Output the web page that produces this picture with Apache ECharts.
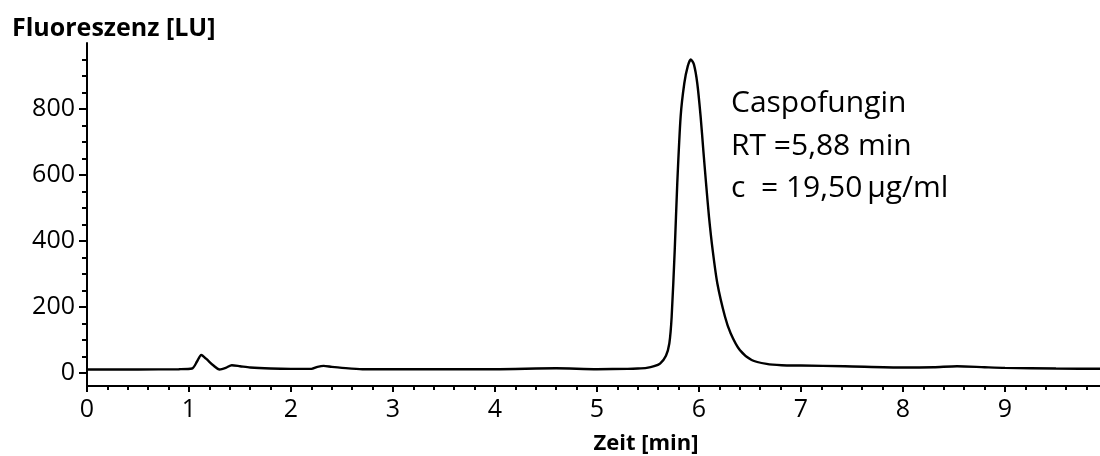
<!DOCTYPE html>
<html>
<head>
<meta charset="utf-8">
<script src="https://cdn.jsdelivr.net/npm/echarts@6/dist/echarts.min.js"></script>
<style>
html,body{margin:0;padding:0;background:#fff;}
#chart{width:1100px;height:456px;}
</style>
</head>
<body>
<div id="chart"></div>
<script>
// Chromatogram data (time in min, fluorescence in LU)
var timeMin = [0, 0.5, 0.9, 1.03, 1.08, 1.12, 1.17, 1.24, 1.3, 1.36, 1.42, 1.5, 1.6, 1.8, 2.0, 2.2, 2.26, 2.32, 2.4, 2.5, 2.7, 3.0, 3.5, 4.0, 4.6, 5.0, 5.3, 5.4, 5.487, 5.56, 5.618, 5.676, 5.709, 5.732, 5.762, 5.787, 5.82, 5.856, 5.89, 5.92, 5.95, 5.983, 6.016, 6.042, 6.069, 6.098, 6.134, 6.18, 6.255, 6.31, 6.4, 6.516, 6.663, 6.81, 7.0, 7.43, 8.0, 8.3, 8.53, 8.8, 9.0, 9.5, 10.0];
var signalLU = [10, 10, 11, 13, 35, 54, 42, 22, 10, 15, 23, 20, 16, 13, 12, 12, 18, 21, 18, 15, 11, 11, 11, 11, 14, 11, 12, 13, 15, 20, 28, 52, 89, 170, 372, 575, 777, 878, 930, 950, 935, 878, 777, 676, 575, 473, 372, 271, 170, 120, 69, 39, 27, 23, 22, 20, 16, 17, 20, 17, 15, 13, 12];

var xMajorTicks = [0, 1, 2, 3, 4, 5, 6, 7, 8, 9];
var xMinorTicks = [0.2,0.4,0.6,0.8,1.2,1.4,1.6,1.8,2.2,2.4,2.6,2.8,3.2,3.4,3.6,3.8,4.2,4.4,4.6,4.8,5.2,5.4,5.6,5.8,6.2,6.4,6.6,6.8,7.2,7.4,7.6,7.8,8.2,8.4,8.6,8.8,9.2,9.4,9.6,9.8];
var yMajorTicks = [0, 200, 400, 600, 800];
var yMinorTicks = [50,100,150,250,300,350,450,500,550,650,700,750,850,900,950];

var yTitle = 'Fluoreszenz [LU]';
var xTitle = 'Zeit [min]';
var annotationLines = ['Caspofungin', 'RT =5,88 min', 'c  = 19,50\u2009µg/ml'];

var points = timeMin.map(function (t, i) { return [t, signalLU[i]]; });

var FONT = '"Open Sans", "Liberation Sans", sans-serif';
var axisLineStyle = { color: '#000', width: 2 };

var chart = echarts.init(document.getElementById('chart'), null, { renderer: 'canvas' });
chart.setOption({
  animation: false,
  backgroundColor: '#fff',
  grid: { left: 87, right: -7, top: 43, bottom: 70, containLabel: false, outerBoundsMode: 'none' },
  xAxis: [
    {
      type: 'value', min: 0, max: 10, position: 'bottom',
      axisLine: { show: true, onZero: false, lineStyle: axisLineStyle },
      axisTick: { show: true, inside: false, length: 6, lineStyle: { color: '#000', width: 2 }, customValues: xMajorTicks },
      axisLabel: { show: true, margin: 11, color: '#000', fontSize: 25, fontFamily: FONT, customValues: xMajorTicks },
      splitLine: { show: false }
    },
    {
      type: 'value', min: 0, max: 10, position: 'bottom',
      axisLine: { show: false, onZero: false },
      axisTick: { show: true, inside: false, length: 4, lineStyle: { color: '#000', width: 2 }, customValues: xMinorTicks },
      axisLabel: { show: false },
      splitLine: { show: false }
    }
  ],
  yAxis: [
    {
      type: 'value', min: -40, max: 1000, position: 'left',
      axisLine: { show: true, onZero: false, lineStyle: axisLineStyle },
      axisTick: { show: true, inside: false, length: 8, lineStyle: { color: '#000', width: 2 }, customValues: yMajorTicks },
      axisLabel: { show: true, margin: 12, color: '#000', fontSize: 25, fontFamily: FONT, customValues: yMajorTicks },
      splitLine: { show: false }
    },
    {
      type: 'value', min: -40, max: 1000, position: 'left',
      axisLine: { show: false, onZero: false },
      axisTick: { show: true, inside: false, length: 5, lineStyle: { color: '#000', width: 2 }, customValues: yMinorTicks },
      axisLabel: { show: false },
      splitLine: { show: false }
    }
  ],
  series: [{
    type: 'line',
    xAxisIndex: 0, yAxisIndex: 0,
    data: points,
    showSymbol: false,
    smooth: 0.25,
    lineStyle: { color: '#000', width: 2.4 },
    z: 3
  }],
  graphic: [
    { type: 'text', x: 12, y: 29, style: { text: yTitle, font: 'bold 25px ' + FONT, fill: '#000', align: 'left', verticalAlign: 'middle', textAlign: 'left', textVerticalAlign: 'middle' } },
    { type: 'text', x: 646, y: 444, style: { text: xTitle, font: 'bold 22px ' + FONT, fill: '#000', align: 'center', verticalAlign: 'middle', textAlign: 'center', textVerticalAlign: 'middle' } },
    { type: 'text', x: 731, y: 103, style: { text: annotationLines[0], font: '30px ' + FONT, fill: '#000', align: 'left', verticalAlign: 'middle', textAlign: 'left', textVerticalAlign: 'middle' } },
    { type: 'text', x: 731, y: 146, style: { text: annotationLines[1], font: '30px ' + FONT, fill: '#000', align: 'left', verticalAlign: 'middle', textAlign: 'left', textVerticalAlign: 'middle' } },
    { type: 'text', x: 731, y: 188, style: { text: annotationLines[2], font: '30px ' + FONT, fill: '#000', align: 'left', verticalAlign: 'middle', textAlign: 'left', textVerticalAlign: 'middle' } }
  ]
});
</script>
</body>
</html>
